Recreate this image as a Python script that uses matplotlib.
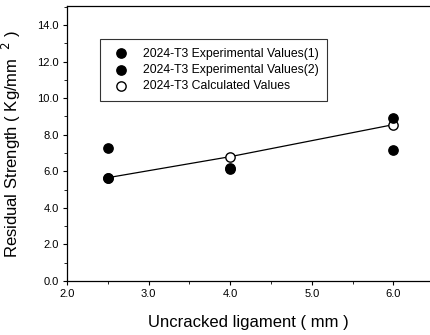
import numpy as np
import matplotlib
matplotlib.use("Agg")
import matplotlib.pyplot as plt
from matplotlib.ticker import MultipleLocator

plt.rcParams['font.family'] = ['Liberation Sans', 'DejaVu Sans']

# data
lig = [2.5, 4.0, 6.0]
exp1 = [7.3, 6.2, 8.9]
exp2 = [5.65, 6.1, 7.15]
calc = [5.65, 6.8, 8.55]

fig = plt.figure(figsize=(4.3, 3.35), dpi=100)
ax = fig.add_axes([67/430, 1 - 281/335, 1 - 67/430, 275/335])

ax.plot(lig, calc, color='black', lw=0.9, zorder=1)
h3 = ax.scatter(lig, calc, s=45, facecolors='white', edgecolors='black', lw=1.0, zorder=2)
h1 = ax.scatter(lig, exp1, s=45, c='black', zorder=3)
h2 = ax.scatter(lig, exp2, s=45, c='black', zorder=3)

ax.set_xlim(2.0, 6.45)
ax.set_ylim(0, 15.04)
ax.xaxis.set_minor_locator(MultipleLocator(0.5))
ax.yaxis.set_minor_locator(MultipleLocator(1.0))
yt = np.arange(0, 15, 2.0)
xt = np.arange(2.0, 6.5, 1.0)
ax.set_yticks(yt)
ax.set_xticks(xt)
ax.set_xticklabels([f"{v:.1f}" for v in xt])
ax.set_yticklabels([f"{v:.1f}" for v in yt])
ax.tick_params(which='major', direction='out', length=3, width=0.8, labelsize=8, pad=3)
ax.tick_params(which='minor', direction='out', length=2, width=0.6)
ax.spines['right'].set_visible(False)
for s in ['left', 'top', 'bottom']:
    ax.spines[s].set_linewidth(0.9)

ax.set_xlabel("Uncracked ligament ( mm )", fontsize=12, labelpad=11)
ax.set_ylabel("Residual Strength ( Kg/mm  $^{2}$ )", fontsize=12, labelpad=10)

leg = ax.legend([h1, h2, h3],
                ["2024-T3 Experimental Values(1)", "2024-T3 Experimental Values(2)",
                 "2024-T3 Calculated Values"],
                loc='upper left', bbox_to_anchor=(33/363, 1 - 33/275),
                fontsize=8.8, frameon=True, fancybox=False, edgecolor='black',
                handletextpad=0.8, labelspacing=0.35, borderpad=0.7,
                borderaxespad=0.0, markerscale=1.0)
leg.get_frame().set_linewidth(0.8)

fig.savefig("out.png", dpi=100)
